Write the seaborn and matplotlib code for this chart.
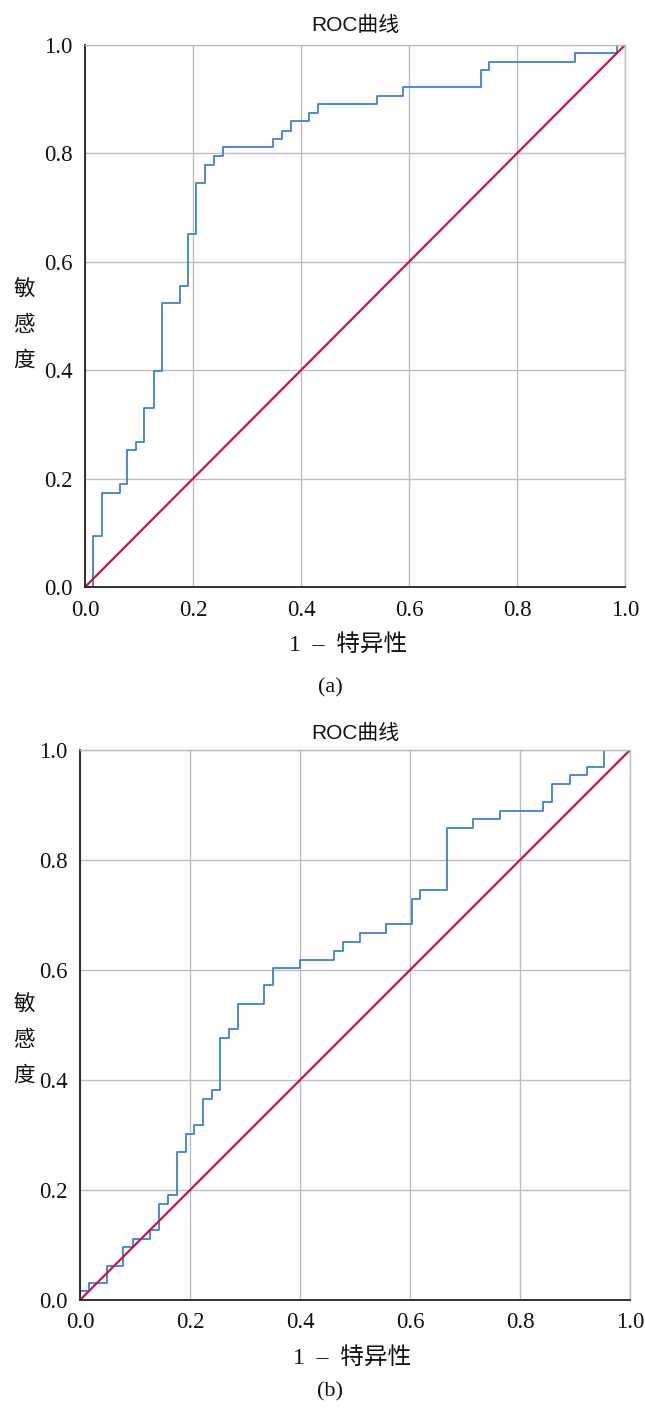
import matplotlib
matplotlib.use("Agg")
import matplotlib.pyplot as plt
import seaborn as sns
import pandas as pd

# ---- data ----
title = "ROC曲线"
xlabel = "1  –  特异性"
ylabel = "敏感度"
captions = ["(a)", "(b)"]
ticks = [0.0, 0.2, 0.4, 0.6, 0.8, 1.0]
tick_labels = ["0.0", "0.2", "0.4", "0.6", "0.8", "1.0"]

fpr_a = [0.0, 0.014, 0.031, 0.064, 0.078, 0.094, 0.110, 0.127, 0.143, 0.175,
         0.190, 0.206, 0.223, 0.239, 0.255, 0.349, 0.365, 0.382, 0.414, 0.431,
         0.541, 0.589, 0.733, 0.748, 0.907, 0.986, 1.0]
tpr_a = [0.0, 0.094, 0.174, 0.190, 0.252, 0.268, 0.331, 0.398, 0.524, 0.556,
         0.651, 0.746, 0.778, 0.795, 0.811, 0.826, 0.842, 0.859, 0.875, 0.891,
         0.906, 0.922, 0.953, 0.969, 0.985, 1.0, 1.0]

fpr_b = [0.0, 0.0, 0.017, 0.049, 0.079, 0.096, 0.128, 0.144, 0.160, 0.176,
         0.193, 0.208, 0.224, 0.240, 0.255, 0.271, 0.287, 0.334, 0.350, 0.400,
         0.462, 0.478, 0.509, 0.556, 0.604, 0.619, 0.668, 0.715, 0.764, 0.842,
         0.859, 0.891, 0.922, 0.953, 1.0]
tpr_b = [0.0, 0.016, 0.031, 0.062, 0.096, 0.111, 0.127, 0.175, 0.191, 0.270,
         0.302, 0.318, 0.365, 0.382, 0.476, 0.492, 0.539, 0.572, 0.603, 0.619,
         0.635, 0.651, 0.668, 0.684, 0.730, 0.746, 0.858, 0.874, 0.890, 0.906,
         0.938, 0.954, 0.970, 1.0, 1.0]

diag_x = [0.0, 1.0]
diag_y = [0.0, 1.0]

# ---- style ----
sns.set_theme(style="whitegrid")
plt.rcParams["font.family"] = ["Liberation Serif", "Noto Sans CJK SC"]

W, H = 645, 1408
fig = plt.figure(figsize=(W / 100, H / 100), dpi=100)

blue = "#3F80D2"
red = "#C8144A"
grid_c = "#BDBDBD"

panels = [
    dict(fpr=fpr_a, tpr=tpr_a, rect=[85 / W, 1 - 587 / H, 540 / W, 542 / H],
         title_y=25, ylab_y=325, cap_y=688, xlab_y=645, xlab_x=348),
    dict(fpr=fpr_b, tpr=tpr_b, rect=[80 / W, 1 - 1300 / H, 550 / W, 550 / H],
         title_y=733, ylab_y=1040, cap_y=1392, xlab_y=1358, xlab_x=352),
]

for p, cap in zip(panels, captions):
    ax = fig.add_axes(p["rect"])
    df = pd.DataFrame({"fpr": p["fpr"], "tpr": p["tpr"]})
    sns.lineplot(data=df, x="fpr", y="tpr", ax=ax, sort=False, estimator=None,
                 color=blue, linewidth=1.3, drawstyle="steps-post")
    sns.lineplot(x=diag_x, y=diag_y, ax=ax, color=red, linewidth=1.6)
    ax.set_xlim(0, 1)
    ax.set_ylim(0, 1)
    ax.set_xticks(ticks)
    ax.set_yticks(ticks)
    ax.set_xticklabels(tick_labels, fontsize=16.5, family="Liberation Serif")
    ax.set_yticklabels(tick_labels, fontsize=16.5, family="Liberation Serif")
    ax.tick_params(axis="x", length=0, pad=9, colors="#111111")
    ax.tick_params(axis="y", length=0, pad=9, colors="#111111")
    ax.grid(True, color=grid_c, linewidth=1.0)
    ax.set_xlabel("")
    ax.set_ylabel("")
    for side in ["top", "right"]:
        ax.spines[side].set_color(grid_c)
        ax.spines[side].set_linewidth(1.0)
    for side in ["left", "bottom"]:
        ax.spines[side].set_color("#222222")
        ax.spines[side].set_linewidth(1.3)
    ax.set_facecolor("white")

    cx = (p["rect"][0] + p["rect"][2] / 2)
    fig.text(cx, 1 - p["title_y"] / H, title, ha="center", va="center",
             fontsize=15, family=["Liberation Sans", "Noto Sans CJK SC"], color="#111111")
    fig.text(p["xlab_x"] / W, 1 - p["xlab_y"] / H, xlabel, ha="center", va="center",
             fontsize=17, family=["Liberation Serif", "Noto Sans CJK SC"], color="#111111")
    fig.text(24 / W, 1 - p["ylab_y"] / H, "\n".join(ylabel), ha="center", va="center",
             fontsize=15.5, family=["Noto Sans CJK SC"], linespacing=1.8, color="#111111")
    fig.text(330 / W, 1 - p["cap_y"] / H, cap, ha="center", va="center",
             fontsize=16, family="Liberation Serif", color="#111111")

fig.savefig("out.png", dpi=100, facecolor="white")
